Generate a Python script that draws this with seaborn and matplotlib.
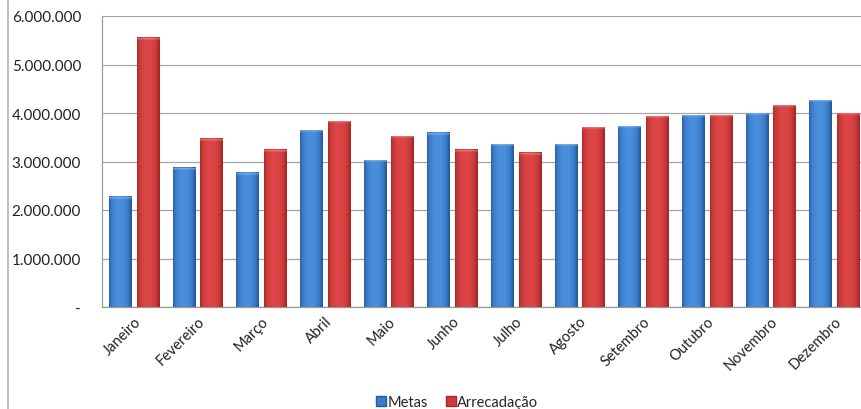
import numpy as np
import pandas as pd
import seaborn as sns
import matplotlib
matplotlib.use("Agg")
import matplotlib.pyplot as plt
from matplotlib.lines import Line2D
from matplotlib.patches import Patch
from matplotlib.ticker import FuncFormatter, MultipleLocator

# Data
meses = ["Janeiro", "Fevereiro", "Março", "Abril", "Maio", "Junho",
         "Julho", "Agosto", "Setembro", "Outubro", "Novembro", "Dezembro"]
metas = [2270000, 2870000, 2770000, 3640000, 3030000, 3590000,
         3350000, 3350000, 3720000, 3950000, 3990000, 4260000]
arrecadacao = [5550000, 3470000, 3240000, 3830000, 3520000, 3240000,
               3180000, 3700000, 3930000, 3950000, 4160000, 3990000]
series = ["Metas", "Arrecadação"]

# Colours: base / dark edge / light centre / top cap
BLUE = "#3a7cc9"
RED = "#d03a3a"
SHADES = {
    BLUE: ("#255a9f", "#4a8fdd", "#8cc0f2"),
    RED: ("#a82626", "#dd4646", "#f29090"),
}

df = pd.DataFrame({
    "Mês": meses * 2,
    "Valor": metas + arrecadacao,
    "Série": [series[0]] * len(meses) + [series[1]] * len(meses),
})

sns.set_style("white")
plt.rcParams["font.family"] = ["Lato", "DejaVu Sans"]

fig = plt.figure(figsize=(8.61, 4.10), dpi=100)
ax = fig.add_axes([102 / 861, 102 / 410, 764 / 861, 291 / 410])

sns.barplot(data=df, x="Mês", y="Valor", hue="Série", palette=[BLUE, RED],
            width=0.87, gap=0.2, legend=False, ax=ax, zorder=3)


def hex_rgb(c):
    return np.array(matplotlib.colors.to_rgb(c))


def shade_bar(ax, patch, base):
    """Overlay an Excel-like cylinder gradient on one bar."""
    dark, light, cap = (hex_rgb(c) for c in SHADES[base])
    x, y = patch.get_x(), patch.get_y()
    w, h = patch.get_width(), patch.get_height()
    t = np.linspace(0, 1, 60)
    prof = np.sin(np.pi * np.clip(t * 1.06, 0, 1)) ** 0.5
    grad = dark[None, :] + (light - dark)[None, :] * prof[:, None]
    ax.imshow(grad[None, :, :], extent=[x, x + w, y, y + h], aspect="auto",
              zorder=3.1, clip_path=patch, interpolation="bilinear")
    # lighter bevel at the top of each bar, fading downwards
    cap_h = 60000
    k = np.linspace(1, 0, 8) ** 1.5
    capg = grad[None, :, :] + (cap - grad)[None, :, :] * 0.7 * k[:, None, None]
    ax.imshow(capg, extent=[x, x + w, y + h - cap_h, y + h],
              aspect="auto", zorder=3.2, clip_path=patch,
              interpolation="bilinear")
    patch.set_edgecolor(dark * 0.85)
    patch.set_linewidth(0.6)


n = len(meses)
for i, patch in enumerate(ax.patches):
    shade_bar(ax, patch, BLUE if i < n else RED)

ax.set_xlim(-0.5, n - 0.5)
ax.set_ylim(0, 6000000)

# Axis formatting
ax.yaxis.set_major_locator(MultipleLocator(1000000))
ax.yaxis.set_major_formatter(FuncFormatter(
    lambda v, p: "-" if v == 0 else f"{v:,.0f}".replace(",", ".")))
ax.grid(axis="y", color="#a6a6a6", linewidth=0.9, zorder=0)
ax.set_axisbelow(True)
for s in ["top", "right"]:
    ax.spines[s].set_visible(False)
for s in ["left", "bottom"]:
    ax.spines[s].set_color("#9a9a9a")
    ax.spines[s].set_linewidth(0.9)

ax.set_xlabel("")
ax.set_ylabel("")
ax.tick_params(axis="y", length=0, pad=15, labelsize=11, labelcolor="#222222")
ax.tick_params(axis="x", length=0, pad=5, labelsize=10.5, labelcolor="#222222")
plt.setp(ax.get_xticklabels(), rotation=45, ha="right", rotation_mode="anchor")

# Legend at the bottom
handles = [Patch(facecolor=BLUE, edgecolor="#255a9f", label=series[0]),
           Patch(facecolor=RED, edgecolor="#a82626", label=series[1])]
fig.legend(handles=handles, loc="center", bbox_to_anchor=(0.531, 0.016),
           ncol=2, frameon=False, fontsize=10.5, handlelength=0.7,
           handleheight=0.7, handletextpad=0.1, columnspacing=1.2)

# Chart border on the left
fig.add_artist(Line2D([8 / 861, 8 / 861], [0, 1], color="#b5b5b5", linewidth=1.2))

fig.savefig("out.png", dpi=100)
